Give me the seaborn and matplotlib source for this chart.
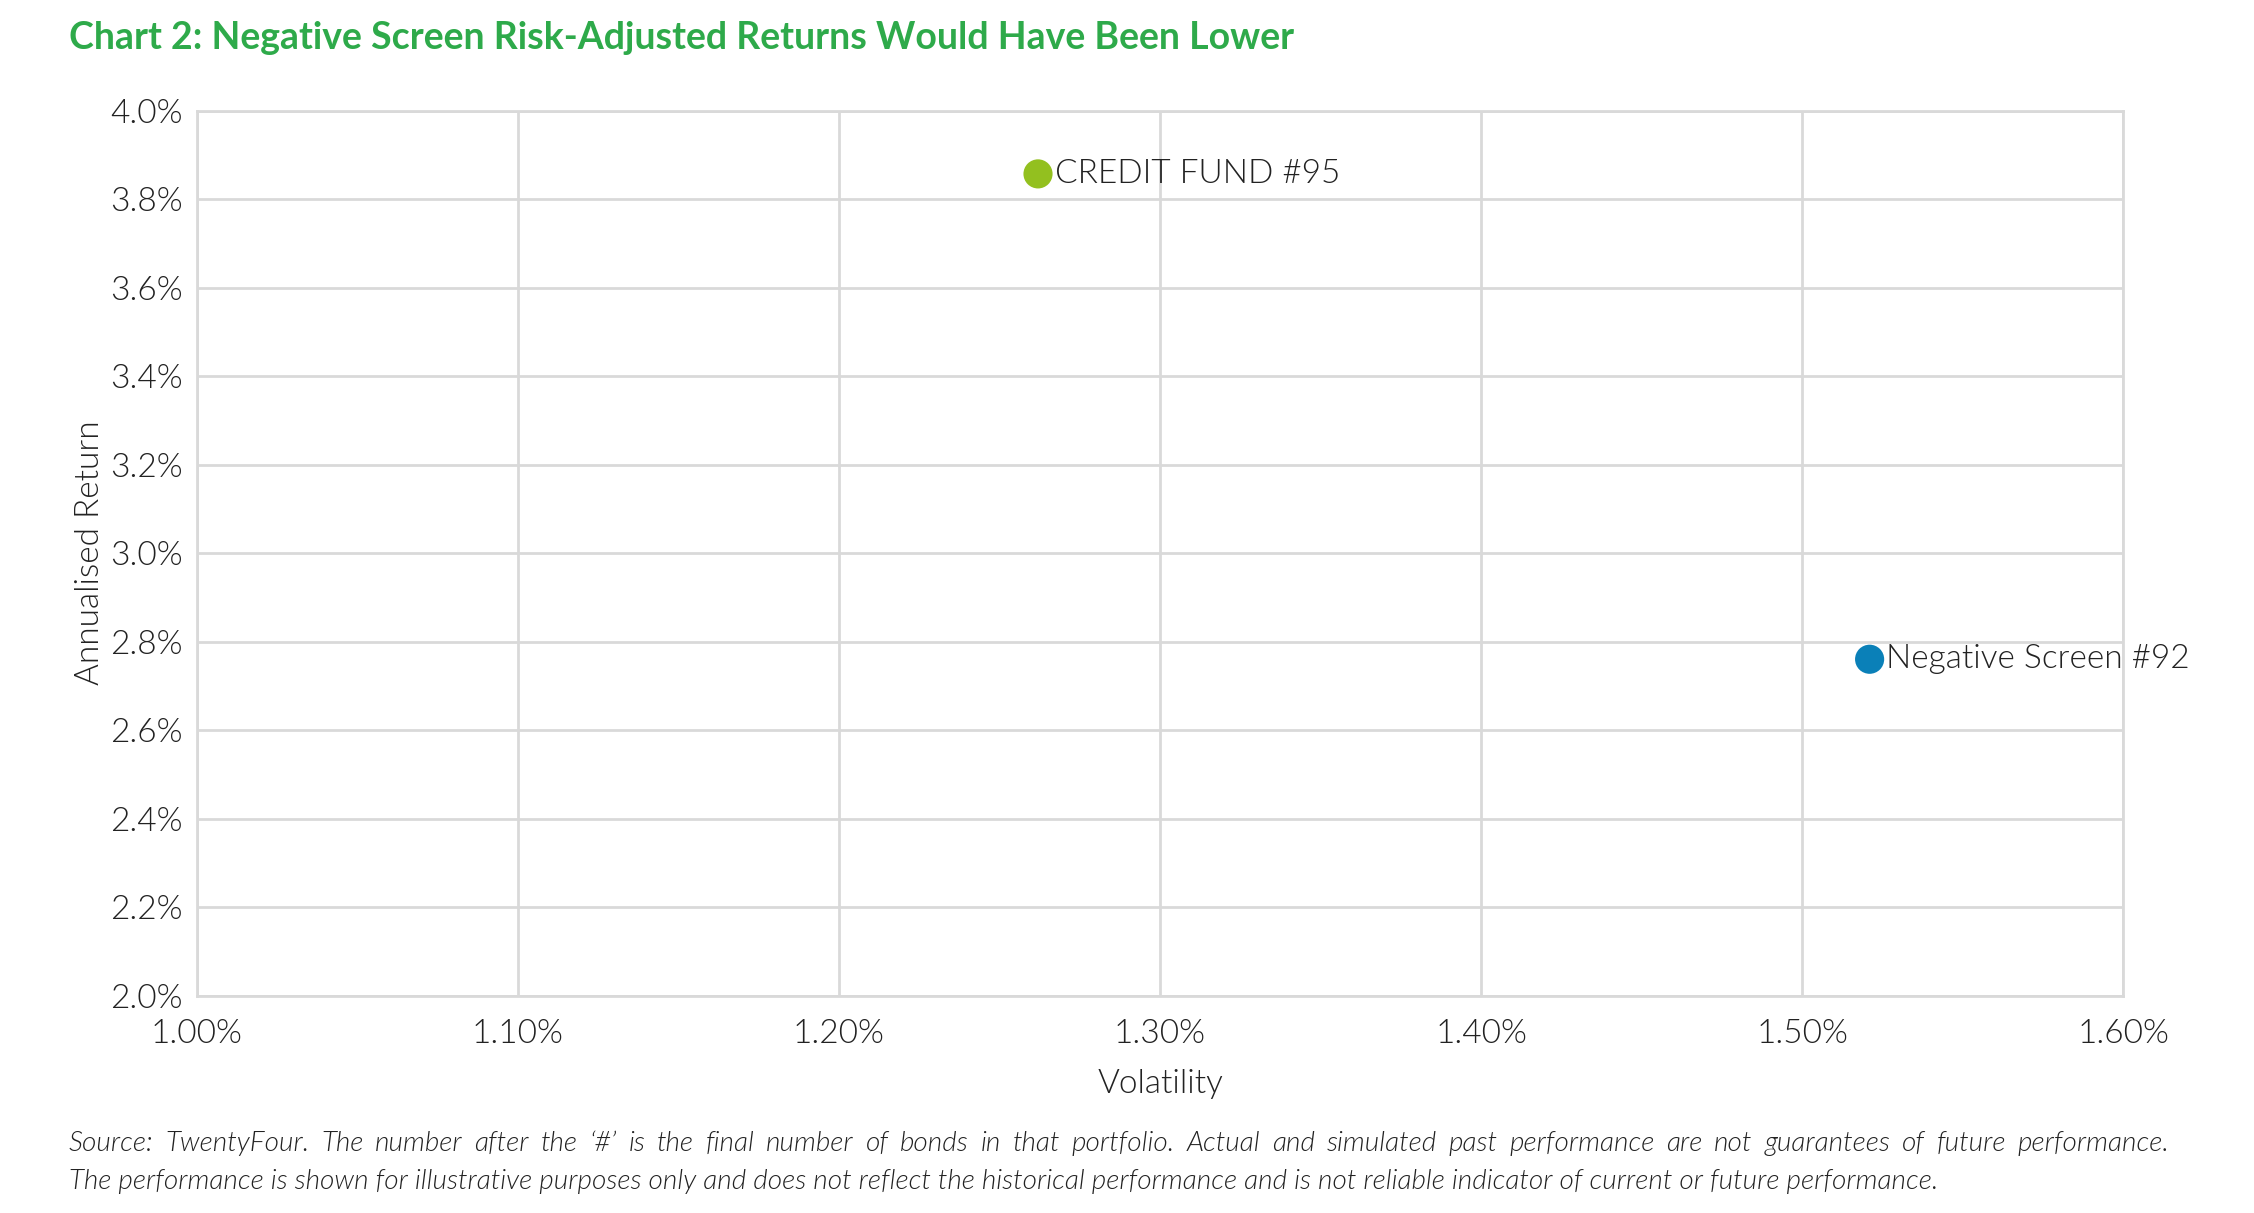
import matplotlib
matplotlib.use("Agg")
import matplotlib.pyplot as plt
import seaborn as sns
import pandas as pd
from matplotlib.ticker import FuncFormatter, MultipleLocator

names = ["CREDIT FUND #95", "Negative Screen #92"]
volatility = [1.262, 1.521]
annual_return = [3.857, 2.760]
colors = ["#93c01f", "#0a80b8"]

df = pd.DataFrame({"name": names, "vol": volatility, "ret": annual_return})

sns.set_theme(style="whitegrid")
plt.rcParams["font.family"] = ["Lato", "DejaVu Sans"]

TXT = "#222222"
LW = 300  # Lato Light

fig = plt.figure(figsize=(22.54, 12.13), dpi=100)
ax = fig.add_axes([0.0873, 0.1793, 0.8547, 0.7295])

sns.scatterplot(data=df, x="vol", y="ret", hue="name", palette=colors,
                s=440, edgecolor="none", legend=False, ax=ax, zorder=3)

for _, row in df.iterrows():
    ax.annotate(row["name"], (row["vol"], row["ret"]), xytext=(12, 0),
                textcoords="offset points", va="center", ha="left",
                fontsize=24, fontweight=LW, color=TXT)

ax.set_xlim(1.0, 1.6)
ax.set_ylim(2.0, 4.0)
ax.xaxis.set_major_locator(MultipleLocator(0.1))
ax.yaxis.set_major_locator(MultipleLocator(0.2))
ax.xaxis.set_major_formatter(FuncFormatter(lambda v, p: f"{v:.2f}%"))
ax.yaxis.set_major_formatter(FuncFormatter(lambda v, p: f"{v:.1f}%"))
ax.tick_params(axis="both", labelsize=24, colors=TXT, length=0)
ax.tick_params(axis="x", pad=17)
ax.tick_params(axis="y", pad=10)
for lab in ax.get_xticklabels() + ax.get_yticklabels():
    lab.set_fontweight(LW)

ax.grid(True, color="#d9d9d9", linewidth=2)
for s in ax.spines.values():
    s.set_color("#d9d9d9")
    s.set_linewidth(2)

ax.set_xlabel("Volatility", fontsize=24, fontweight=LW, color=TXT, labelpad=14)
ax.set_ylabel("Annualised Return", fontsize=24, fontweight=LW, color=TXT, labelpad=4)

fig.text(0.0306, 0.983, "Chart 2: Negative Screen Risk-Adjusted Returns Would Have Been Lower",
         fontsize=27, fontweight="bold", color="#2eaa4a", va="top", ha="left")

foot1 = ("Source: TwentyFour. The number after the \u2018#\u2019 is the final number of bonds in that portfolio. "
         "Actual and simulated past performance are not guarantees of future performance.")
foot2 = ("The performance is shown for illustrative purposes only and does not reflect the historical "
         "performance and is not reliable indicator of current or future performance.")

# first footnote line is justified across the width
x0, x1 = 0.0306, 0.9625
renderer = fig.canvas.get_renderer()
words = foot1.split(" ")
objs = [fig.text(0, 0.057, w, fontsize=20.2, fontstyle="italic", fontweight=LW,
                 color=TXT, va="center", ha="left") for w in words]
widths = [o.get_window_extent(renderer).width / fig.bbox.width for o in objs]
gap = (x1 - x0 - sum(widths)) / (len(words) - 1)
xpos = x0
for o, w in zip(objs, widths):
    o.set_x(xpos)
    xpos += w + gap

fig.text(x0, 0.026, foot2, fontsize=20.2, fontstyle="italic", fontweight=LW,
         color=TXT, va="center", ha="left")

fig.savefig("out.png", dpi=100, facecolor="white")
